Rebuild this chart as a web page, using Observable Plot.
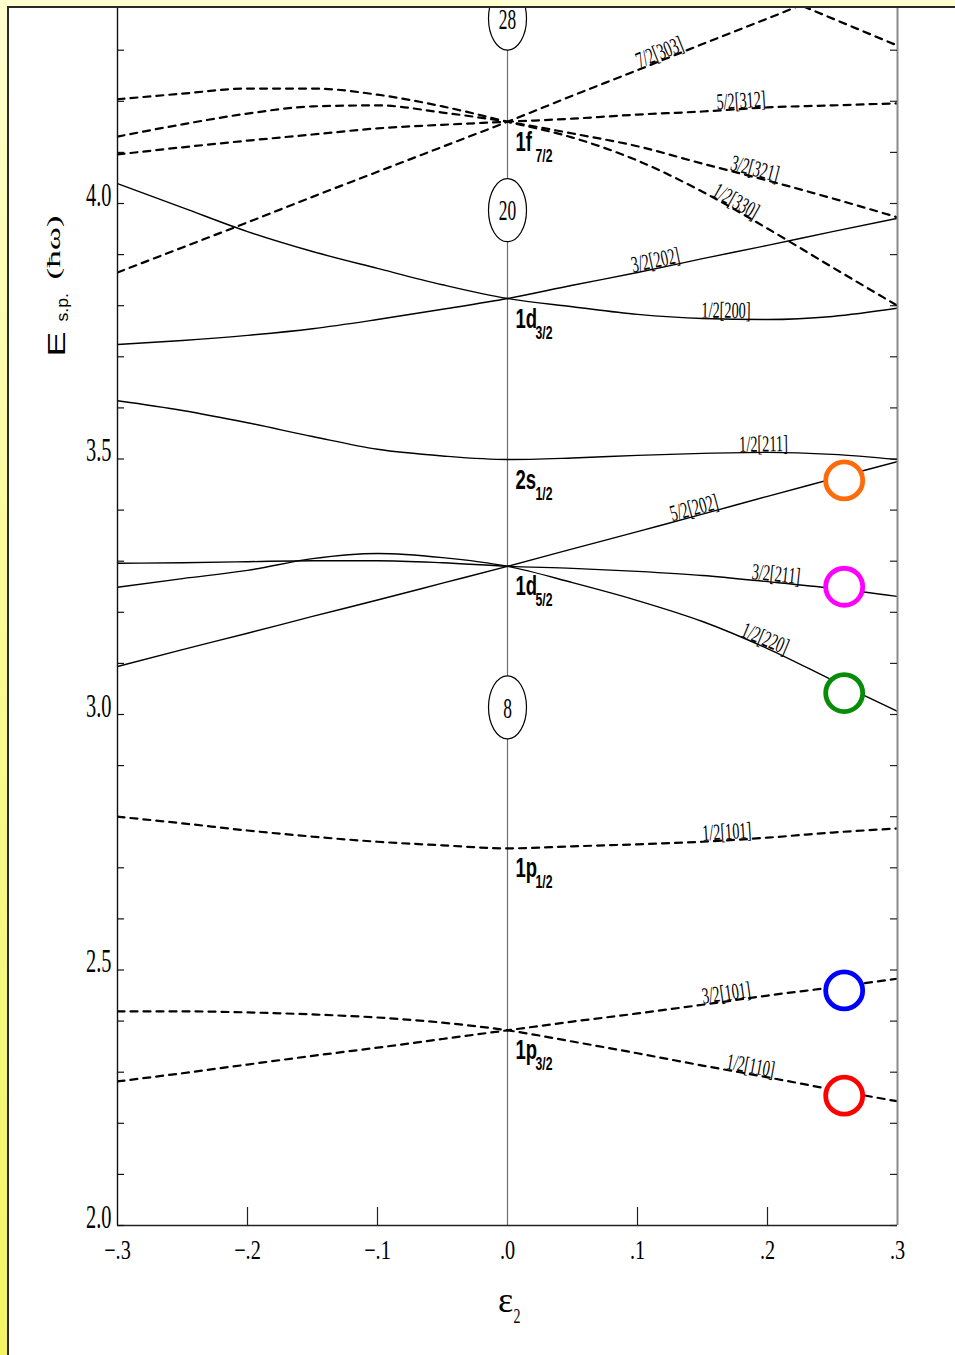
<!DOCTYPE html>
<html>
<head>
<meta charset="utf-8">
<script src="https://cdn.jsdelivr.net/npm/d3@7"></script>
<script src="https://cdn.jsdelivr.net/npm/@observablehq/plot@0.6"></script>
<style>
html, body { margin: 0; padding: 0; background: #fff; }
#page { position: relative; width: 955px; height: 1355px; overflow: hidden;
  background: linear-gradient(180deg, #ffffd0 0%, #fbfb9c 40%, #f4f464 100%); }
#panel { position: absolute; left: 7px; top: 6px; right: -20px; bottom: -20px;
  background: #fff; border-left: 2px solid #2b2b2b; border-top: 2px solid #2b2b2b; }
#chart { position: absolute; left: 0; top: 0; }
</style>
</head>
<body>
<div id="page"><div id="panel"></div><div id="chart"></div></div>
<script>
// ---------------- data ----------------
const eps = [-0.3, -0.25, -0.2, -0.15, -0.1, -0.05, 0, 0.05, 0.1, 0.15, 0.2, 0.25, 0.3];

// N = 1 (dashed)
const E_1_2_110 = [2.419, 2.419, 2.417, 2.413, 2.407, 2.397, 2.382, 2.360, 2.337, 2.313, 2.290, 2.266, 2.243];
const E_3_2_101 = [2.282, 2.298, 2.315, 2.332, 2.348, 2.365, 2.382, 2.399, 2.415, 2.432, 2.450, 2.466, 2.483];
const E_1_2_101 = [2.800, 2.787, 2.773, 2.761, 2.751, 2.744, 2.738, 2.742, 2.746, 2.751, 2.759, 2.769, 2.777];

// N = 2 (solid)
const E_5_2_202 = [3.094, 3.127, 3.159, 3.192, 3.224, 3.257, 3.290, 3.324, 3.358, 3.392, 3.427, 3.461, 3.495];
const E_3_2_211 = [3.296, 3.297, 3.299, 3.301, 3.301, 3.297, 3.290, 3.286, 3.280, 3.272, 3.260, 3.247, 3.231];
const E_1_2_220 = [3.249, 3.266, 3.282, 3.305, 3.315, 3.307, 3.290, 3.258, 3.223, 3.182, 3.129, 3.067, 3.006];
const E_1_2_211 = [3.614, 3.595, 3.571, 3.544, 3.519, 3.506, 3.499, 3.502, 3.507, 3.511, 3.513, 3.509, 3.499];
const E_3_2_202 = [3.724, 3.732, 3.742, 3.755, 3.773, 3.793, 3.814, 3.840, 3.865, 3.892, 3.918, 3.945, 3.971];
const E_1_2_200 = [4.039, 3.992, 3.945, 3.906, 3.873, 3.841, 3.814, 3.798, 3.783, 3.775, 3.773, 3.779, 3.795];

// N = 3 (dashed)
const E_7_2_303 = [3.865, 3.914, 3.963, 4.013, 4.062, 4.111, 4.160, 4.211, 4.261, 4.312, 4.362, 4.413, 4.463];
const E_5_2_312 = [4.096, 4.110, 4.123, 4.135, 4.147, 4.154, 4.160, 4.166, 4.174, 4.180, 4.188, 4.192, 4.196];
const E_3_2_321 = [4.131, 4.155, 4.176, 4.190, 4.192, 4.178, 4.160, 4.137, 4.112, 4.078, 4.045, 4.010, 3.973];
const E_1_2_330 = [4.204, 4.215, 4.225, 4.225, 4.213, 4.190, 4.160, 4.129, 4.084, 4.023, 3.951, 3.875, 3.800];
// level coming down from the next shell (top right corner)
const upperEps = [0.2, 0.3];
const upperE = [4.415, 4.309];

// Nilsson labels and where they sit along their level
const labelNames = ["7/2[303]", "5/2[312]", "3/2[321]", "1/2[330]", "3/2[202]", "1/2[200]", "1/2[211]",
                    "5/2[202]", "3/2[211]", "1/2[220]", "1/2[101]", "3/2[101]", "1/2[110]"];
const labelEps = [0.119, 0.180, 0.189, 0.173, 0.115, 0.168, 0.197, 0.145, 0.206, 0.196, 0.169, 0.169, 0.186];

// spherical-shell labels at eps = 0
const orbitalMain = ["1p", "1p", "1d", "2s", "1d", "1f"];
const orbitalSub = ["3/2", "1/2", "5/2", "1/2", "3/2", "7/2"];
const orbitalE = [2.382, 2.738, 3.290, 3.499, 3.814, 4.160];

// magic numbers
const magicNumbers = ["8", "20", "28"];
const magicE = [3.014, 3.987, 4.362];

// highlighted states
const markEps = 0.259;
const markE = [3.458, 3.250, 3.042, 2.460, 2.254];
const markColors = ["#ff6a0a", "#ff00ff", "#078c07", "#0000ff", "#ff0000"];

// axes
const yTickValues = d3.range(20, 44).map(d => d / 10);
const yLabelValues = [2.0, 2.5, 3.0, 3.5, 4.0];
const yLabelText = ["2.0", "2.5", "3.0", "3.5", "4.0"];
const xTickValues = [-0.2, -0.1, 0.1, 0.2];
const xLabelValues = [-0.3, -0.2, -0.1, 0, 0.1, 0.2, 0.3];
const xLabelText = ["\u2212.3", "\u2212.2", "\u2212.1", ".0", ".1", ".2", ".3"];

// ---------------- build ----------------
const W = 955, H = 1355, mL = 117, mR = 58, mT = 8, mB = 130;
const pxPerE = 511;
const pxPerEps = (W - mL - mR) / 0.6;
const yMax = 2 + (H - mB - mT) / pxPerE;
const serif = "'Liberation Serif', 'Times New Roman', serif";
const sans = "'Liberation Sans', Arial, sans-serif";

const byName = {
  "1/2[110]": E_1_2_110, "3/2[101]": E_3_2_101, "1/2[101]": E_1_2_101,
  "5/2[202]": E_5_2_202, "3/2[211]": E_3_2_211, "1/2[220]": E_1_2_220,
  "1/2[211]": E_1_2_211, "3/2[202]": E_3_2_202, "1/2[200]": E_1_2_200,
  "7/2[303]": E_7_2_303, "5/2[312]": E_5_2_312, "3/2[321]": E_3_2_321, "1/2[330]": E_1_2_330
};
const solidNames = ["5/2[202]", "3/2[211]", "1/2[220]", "1/2[211]", "3/2[202]", "1/2[200]"];
const dashedNames = ["1/2[110]", "3/2[101]", "1/2[101]", "7/2[303]", "5/2[312]", "3/2[321]", "1/2[330]"];

const solidRows = [], dashedRows = [];
solidNames.forEach(n => byName[n].forEach((v, i) => solidRows.push({name: n, eps: eps[i], E: v})));
dashedNames.forEach(n => byName[n].forEach((v, i) => dashedRows.push({name: n, eps: eps[i], E: v})));
upperE.forEach((v, i) => dashedRows.push({name: "upper", eps: upperEps[i], E: v}));

function interp(arr, e) {
  let i = Math.floor((e - eps[0]) / 0.05 + 1e-9);
  i = Math.max(0, Math.min(eps.length - 2, i));
  const slope = (arr[i + 1] - arr[i]) / (eps[i + 1] - eps[i]);
  return {v: arr[i] + slope * (e - eps[i]), slope};
}
const labelRows = labelNames.map((n, i) => {
  const r = interp(byName[n], labelEps[i]);
  return {t: n, eps: labelEps[i], E: r.v, angle: Math.atan(-r.slope * pxPerE / pxPerEps) * 180 / Math.PI};
});
const orbitalRows = orbitalMain.map((m, i) => ({eps: 0, E: orbitalE[i], main: m, sub: orbitalSub[i]}));
const magicRows = magicNumbers.map((n, i) => ({eps: 0, E: magicE[i], n}));
const markRows = markE.map((v, i) => ({eps: markEps, E: v, c: markColors[i]}));

const frameW = W - mL - mR, frameH = H - mT - mB;
const tag = name => () => name;   // per-element aria-label used for the post styling

const svg = Plot.plot({
  width: W, height: H,
  marginLeft: mL, marginRight: mR, marginTop: mT, marginBottom: mB,
  style: {background: "transparent", overflow: "visible"},
  x: {domain: [-0.3, 0.3], axis: null},
  y: {domain: [2, yMax], axis: null},
  color: {type: "identity"},
  marks: [
    Plot.ruleX([0], {stroke: "#6e6e6e", strokeWidth: 1.2}),
    Plot.line(solidRows, {x: "eps", y: "E", z: "name", stroke: "#000", strokeWidth: 1.4, curve: "monotone-x", clip: true}),
    Plot.line(dashedRows, {x: "eps", y: "E", z: "name", stroke: "#000", strokeWidth: 2.2, strokeDasharray: "7,6", curve: "monotone-x", clip: true}),
    // frame lines
    Plot.ruleX([-0.3], {stroke: "#111", strokeWidth: 1.4}),
    Plot.ruleX([0.3], {stroke: "#8a8a8a", strokeWidth: 2}),
    Plot.ruleY([2], {stroke: "#222", strokeWidth: 1.6}),
    // ticks (inward)
    Plot.tickY(yTickValues, {y: d => d, insetRight: frameW - 7, stroke: "#111", strokeWidth: 1.2}),
    Plot.tickY(yTickValues, {y: d => d, insetLeft: frameW - 7, stroke: "#222", strokeWidth: 1.2}),
    Plot.tickX(xTickValues, {x: d => d, insetTop: frameH - 18, stroke: "#222", strokeWidth: 1.2}),
    // tick labels
    Plot.text(yLabelValues, {y: d => d, text: yLabelText, frameAnchor: "left", textAnchor: "end", lineAnchor: "bottom",
      dx: -6, dy: 2, fontSize: 34, fontFamily: serif, fill: "#000", ariaLabel: tag("ytick-label")}),
    Plot.text(xLabelValues, {x: d => d, text: xLabelText, frameAnchor: "bottom", textAnchor: "middle", lineAnchor: "bottom",
      dy: 33, fontSize: 27, fontFamily: serif, fill: "#000", ariaLabel: tag("xtick-label")}),
    // magic-number ellipses
    Plot.dot(magicRows, {x: "eps", y: "E", r: 19, fill: "#fff", stroke: "#000", strokeWidth: 1.2, clip: true, ariaLabel: tag("magic-ring")}),
    Plot.text(magicRows, {x: "eps", y: "E", text: "n", fontSize: 29, fontFamily: serif, fill: "#000", dy: 1, ariaLabel: tag("magic-num")}),
    // Nilsson labels
    Plot.text(labelRows, {x: "eps", y: "E", text: "t", rotate: "angle", textAnchor: "middle", lineAnchor: "bottom",
      dy: -1, fontSize: 23, fontFamily: serif, fill: "#000", ariaLabel: tag("curve-label")}),
    // shell labels
    Plot.text(orbitalRows, {x: "eps", y: "E", text: "main", textAnchor: "start", lineAnchor: "bottom",
      dx: 8, dy: 29, fontSize: 28, fontWeight: "bold", fontFamily: sans, fill: "#000", ariaLabel: tag("orb-main")}),
    Plot.text(orbitalRows, {x: "eps", y: "E", text: "sub", textAnchor: "start", lineAnchor: "bottom",
      dx: 28, dy: 40, fontSize: 18, fontWeight: "bold", fontFamily: sans, fill: "#000", ariaLabel: tag("orb-sub")}),
    // highlighted states
    Plot.dot(markRows, {x: "eps", y: "E", r: 18.5, stroke: "c", fill: "#fff", strokeWidth: 4.8}),
    // axis titles
    Plot.text(["E"], {frameAnchor: "top-left", dx: -53, dy: 348, rotate: -90, textAnchor: "start", lineAnchor: "bottom",
      fontSize: 23, fontFamily: sans, fill: "#000", ariaLabel: tag("ytitle-E")}),
    Plot.text(["s.p."], {frameAnchor: "top-left", dx: -49.5, dy: 313, rotate: -90, textAnchor: "start", lineAnchor: "bottom",
      fontSize: 16, fontFamily: sans, fill: "#000", ariaLabel: tag("ytitle-sp")}),
    Plot.text(["(\u0127\u03c9)"], {frameAnchor: "top-left", dx: -57.5, dy: 271, rotate: -90, textAnchor: "start", lineAnchor: "bottom",
      fontSize: 19.5, fontFamily: serif, fill: "#000", ariaLabel: tag("ytitle-hw")}),
    Plot.text([{eps: 0, t: "\u03b5"}], {x: "eps", text: "t", frameAnchor: "bottom", textAnchor: "middle", lineAnchor: "bottom",
      dx: -2, dy: 86, fontSize: 36, fontFamily: serif, fill: "#000", ariaLabel: tag("xtitle-eps")}),
    Plot.text([{eps: 0, t: "2"}], {x: "eps", text: "t", frameAnchor: "bottom", textAnchor: "start", lineAnchor: "bottom",
      dx: 6, dy: 97, fontSize: 20, fontFamily: serif, fill: "#000", ariaLabel: tag("xtitle-2")})
  ]
});

// ---------------- post styling: the original figure is stretched vertically ----------------
function squeeze(label, s) {
  svg.querySelectorAll(`text[aria-label="${label}"]`).forEach(t => {
    const tr = t.getAttribute("transform") || "";
    const x = +(t.getAttribute("x") || 0);
    t.setAttribute("transform", `${tr} translate(${x},0) scale(${s},1) translate(${-x},0)`);
  });
}
squeeze("ytick-label", 0.6);
squeeze("xtick-label", 0.75);
squeeze("magic-num", 0.6);
squeeze("curve-label", 0.62);
squeeze("orb-main", 0.66);
squeeze("orb-sub", 0.68);
squeeze("ytitle-E", 1.63);
squeeze("ytitle-sp", 1.1);
squeeze("ytitle-hw", 1.8);
squeeze("xtitle-2", 0.7);

svg.querySelectorAll('[aria-label="magic-ring"]').forEach(c => {
  const tagName = c.tagName.toLowerCase();
  if (tagName === "circle") {
    const cy = +c.getAttribute("cy");
    c.setAttribute("transform", `translate(0,${cy}) scale(1,1.66) translate(0,${-cy})`);
  } else if (tagName === "path") {
    const tr = c.getAttribute("transform") || "";
    c.setAttribute("transform", `${tr} scale(1,1.66)`);
  }
  c.setAttribute("vector-effect", "non-scaling-stroke");
});

document.getElementById("chart").appendChild(svg);
</script>
</body>
</html>
